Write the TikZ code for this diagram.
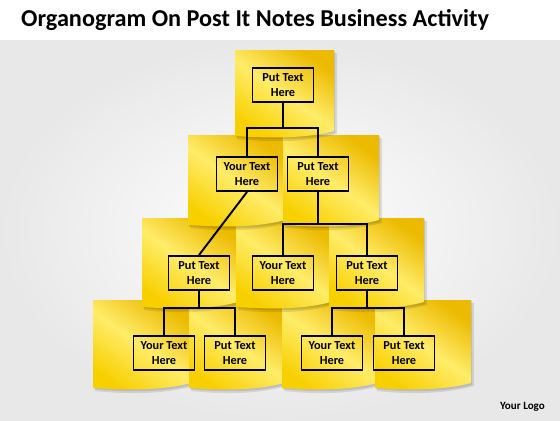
\documentclass[tikz,border=0pt]{standalone}
\usepackage{fontspec}
\setmainfont{Carlito}
\usetikzlibrary{calc}

\definecolor{notebase}{RGB}{248,208,0}
\definecolor{notelight}{RGB}{255,236,105}
\definecolor{notedark}{RGB}{236,186,0}

\tikzset{
  txtbox/.style={draw=black, line width=1.1pt, minimum width=1.22cm, minimum height=0.68cm,
    inner sep=0pt, align=center, font=\fontsize{7}{8.5}\selectfont\bfseries},
  link/.style={draw=black, line width=1.1pt}
}

% one post it note: corner x1 y1, corner x2 y2 (pixels, y downwards)
\newcommand{\postit}[4]{%
  \fill[black, opacity=0.10] ({#1+3},{#2+3}) -- ({#3+3},{#2+3}) -- ({#3+3},{#4-2}) .. controls ({#3-30},{#4+7}) and ({#1+30},{#4+6}) .. ({#1+2},{#4+3}) -- cycle;
  \fill[black, opacity=0.10] ({#1+1},{#2+1}) -- ({#3+1},{#2+1}) -- ({#3+1},{#4-3}) .. controls ({#3-30},{#4+5}) and ({#1+30},{#4+4}) .. ({#1+1},{#4+1}) -- cycle;
  \shade[left color=notedark, right color=notebase, middle color=notelight, shading angle=-35]
    (#1,#2) -- (#3,#2) -- (#3,{#4-5}) .. controls ({#3-30},{#4+3}) and ({#1+30},{#4+2}) .. (#1,#4) -- cycle;
}

\begin{document}
\begin{tikzpicture}[x=0.02cm, y=-0.02cm]
\useasboundingbox (0,0) rectangle (560,420);
\fill[white] (0,0) rectangle (560,40);
\shade[inner color=white, outer color=black!9] (0,40) rectangle (560,420);

\node[anchor=west, font=\fontsize{13.8}{16}\selectfont\bfseries] (title) at (15,20)
  {Organogram On Post It Notes Business Activity};

% notes, back row first
\postit{93}{300}{191}{388}
\postit{189}{300}{284}{388}
\postit{282}{300}{377}{388}
\postit{375}{300}{471}{388}
\postit{142}{218}{238}{307}
\postit{236}{218}{331}{307}
\postit{329}{218}{424}{307}
\postit{188}{135}{285}{225}
\postit{283}{135}{379}{225}
\postit{235}{50}{334}{136}

% boxes
\node[txtbox] (top) at (283,85) {Put Text\\Here};
\node[txtbox] (a) at (247,174) {Your Text\\Here};
\node[txtbox] (b) at (318,174) {Put Text\\Here};
\node[txtbox] (c) at (199,273) {Put Text\\Here};
\node[txtbox] (d) at (283,273) {Your Text\\Here};
\node[txtbox] (e) at (367,273) {Put Text\\Here};
\node[txtbox] (f) at (164,353) {Your Text\\Here};
\node[txtbox] (g) at (235,353) {Put Text\\Here};
\node[txtbox] (h) at (332,353) {Your Text\\Here};
\node[txtbox] (i) at (404,353) {Put Text\\Here};

% links
\draw[link] (top.south) -- ++(0,25) -| (a.north);
\draw[link] (top.south) ++(0,25) -| (b.north);
\draw[link] (a.south) -- (c.north);
\draw[link] (b.south) -- ++(0,32) -| (d.north);
\draw[link] (b.south) ++(0,32) -| (e.north);
\draw[link] (c.south) -- ++(0,17) -| (f.north);
\draw[link] (c.south) ++(0,17) -| (g.north);
\draw[link] (e.south) -- ++(0,17) -| (h.north);
\draw[link] (e.south) ++(0,17) -| (i.north);

\node[anchor=east, font=\fontsize{6.3}{7}\selectfont\bfseries] (logo) at (551,407) {Your Logo};
\end{tikzpicture}
\end{document}
